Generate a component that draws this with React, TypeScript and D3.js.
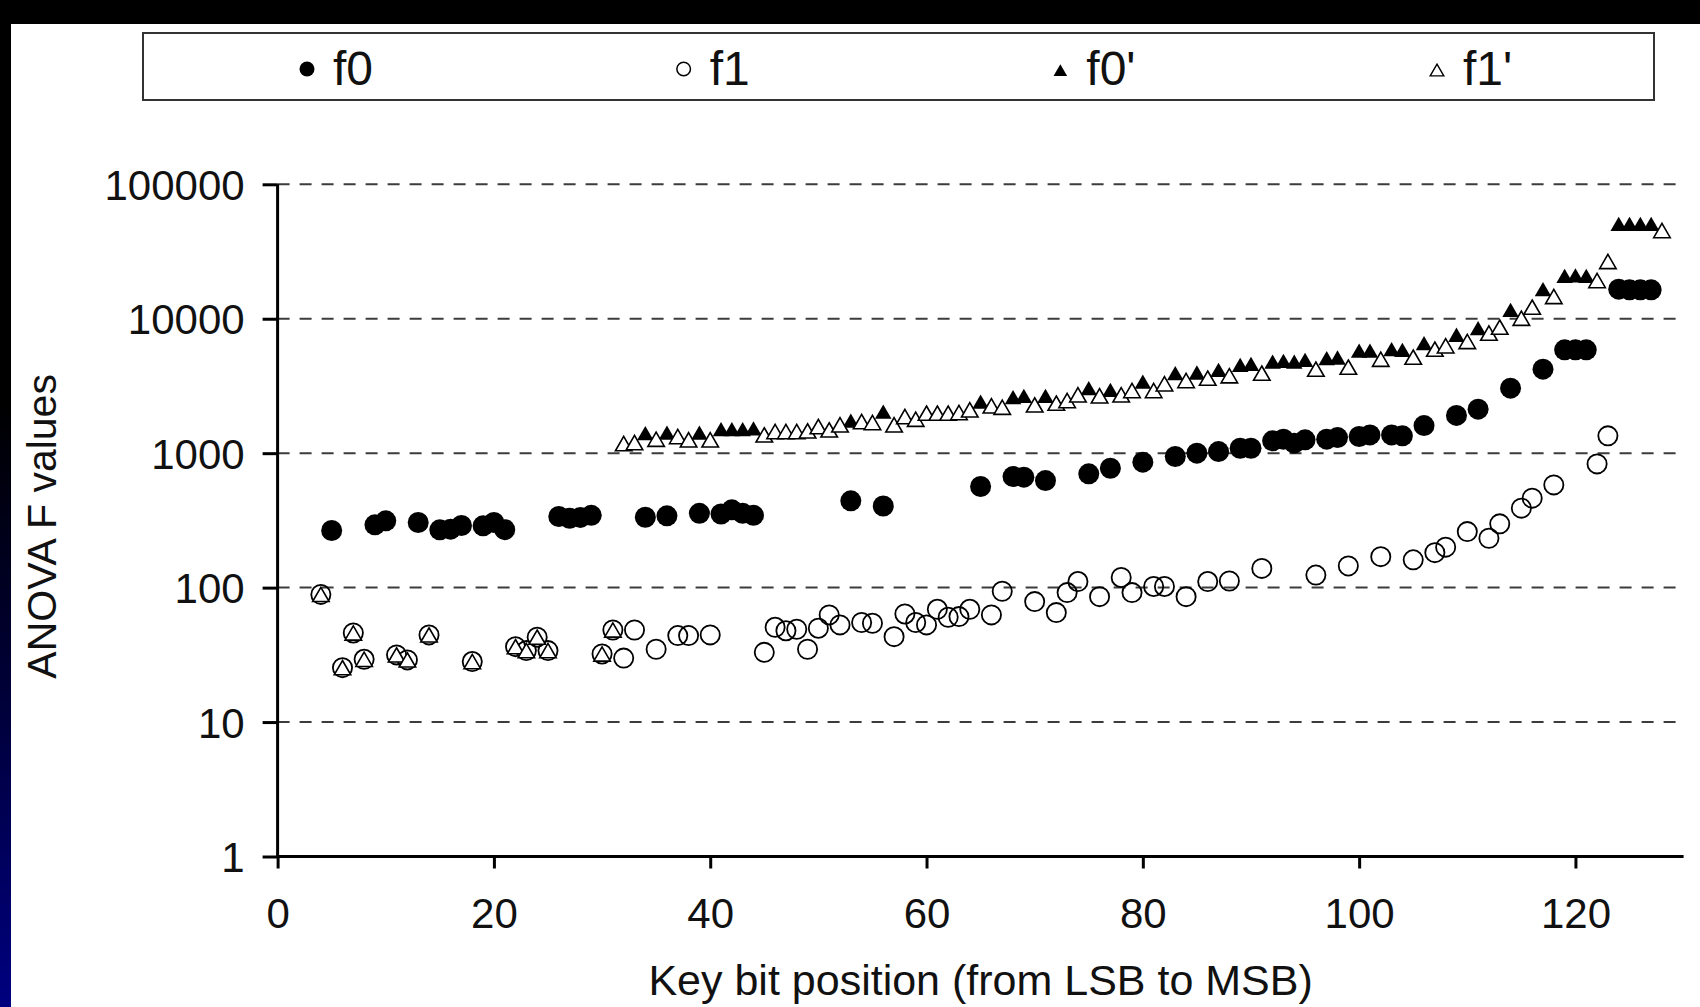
import React, { useEffect, useRef } from "react";
import * as d3 from "d3";

// key bit positions and ANOVA F values
const f0Bits = [5, 9, 10, 13, 15, 16, 17, 19, 20, 21, 26, 27, 28, 29, 34, 36, 39, 41, 42, 43, 44, 53, 56, 65, 68, 69, 71, 75, 77, 80, 83, 85, 87, 89, 90, 92, 93, 94, 95, 97, 98, 100, 101, 103, 104, 106, 109, 111, 114, 117, 119, 120, 121, 124, 125, 126, 127];
const f0Vals = [266, 293, 314, 305, 269, 272, 290, 288, 305, 270, 338, 328, 333, 345, 334, 342, 357, 353, 379, 357, 345, 442, 405, 565, 670, 663, 625, 702, 773, 857, 944, 1000, 1028, 1089, 1089, 1235, 1271, 1187, 1256, 1271, 1306, 1330, 1368, 1368, 1345, 1604, 1910, 2125, 3046, 4217, 5870, 5870, 5870, 16600, 16400, 16400, 16400];

const f1Bits = [4, 6, 7, 8, 11, 12, 14, 18, 22, 23, 24, 25, 30, 31, 32, 33, 35, 37, 38, 40, 45, 46, 47, 48, 49, 50, 51, 52, 54, 55, 57, 58, 59, 60, 61, 62, 63, 64, 66, 67, 70, 72, 73, 74, 76, 78, 79, 81, 82, 84, 86, 88, 91, 96, 99, 102, 105, 107, 108, 110, 112, 113, 115, 116, 118, 122, 123];
const f1Vals = [89, 25.4, 46, 29.3, 31.6, 29, 44.5, 28.2, 36.4, 34, 42.8, 34, 32.1, 48.4, 29.9, 48.4, 34.8, 44, 44, 44.5, 33, 50.7, 47.8, 49, 34.8, 49.9, 62.7, 52.8, 55, 54.3, 43.2, 63.7, 55, 52.8, 69, 60.2, 60.9, 69, 62.7, 94, 78.7, 65.2, 91.8, 111, 85.7, 119, 91.8, 102, 102, 85.7, 111, 112, 139, 124, 145, 170, 161, 182, 200, 261, 233, 298, 390, 463, 581, 832, 1345];

const f0pBits = [34, 36, 39, 41, 42, 43, 44, 53, 56, 65, 68, 69, 71, 75, 77, 80, 83, 85, 87, 89, 90, 92, 93, 94, 95, 97, 98, 100, 101, 103, 104, 106, 109, 111, 114, 117, 119, 120, 121, 124, 125, 126, 127];
const f0pVals = [1409, 1423, 1423, 1508, 1508, 1508, 1530, 1749, 2041, 2421, 2611, 2669, 2669, 3046, 2958, 3411, 3937, 3981, 4169, 4540, 4614, 4805, 4860, 4805, 4944, 5093, 5150, 5800, 5800, 5940, 5870, 6580, 7600, 8510, 11640, 16600, 20850, 21000, 20850, 50800, 50800, 50800, 50800];

const f1pBits = [4, 6, 7, 8, 11, 12, 14, 18, 22, 23, 24, 25, 30, 31, 32, 33, 35, 37, 38, 40, 45, 46, 47, 48, 49, 50, 51, 52, 54, 55, 57, 58, 59, 60, 61, 62, 63, 64, 66, 67, 70, 72, 73, 74, 76, 78, 79, 81, 82, 84, 86, 88, 91, 96, 99, 102, 105, 107, 108, 110, 112, 113, 115, 116, 118, 122, 123, 128];
const f1pVals = [89, 25.4, 46, 29.3, 31.6, 29, 44.5, 28.2, 36.4, 34, 42.8, 34, 32.1, 48.4, 1178, 1199, 1271, 1330, 1256, 1256, 1368, 1448, 1448, 1448, 1465, 1577, 1490, 1624, 1718, 1690, 1624, 1871, 1790, 1985, 1985, 1985, 2005, 2100, 2250, 2198, 2287, 2355, 2462, 2716, 2669, 2716, 2922, 2922, 3280, 3469, 3614, 3770, 3937, 4217, 4365, 5000, 5180, 5940, 6290, 6770, 7820, 8660, 10090, 12200, 14630, 19240, 26660, 45300];

const seriesNames = ["f0", "f1", "f0'", "f1'"];
const xTicks = [0, 20, 40, 60, 80, 100, 120];
const yTicks = [1, 10, 100, 1000, 10000, 100000];

const W = 1700;
const H = 1007;
const font = "'Liberation Sans', Arial, sans-serif";

function App() {
  const svgRef = useRef(null);

  useEffect(() => {
    const svg = d3.select(svgRef.current);
    svg.selectAll("*").remove();

    const x = d3.scaleLinear().domain([0, 130]).range([277.6, 1683.6]);
    const y = d3.scaleLog().domain([1, 100000]).range([856.5, 184.3]);

    // slide frame: black top bar, dark left strip
    const defs = svg.append("defs");
    const grad = defs.append("linearGradient").attr("id", "edge").attr("x1", 0).attr("y1", 0).attr("x2", 0).attr("y2", 1);
    grad.append("stop").attr("offset", "0%").attr("stop-color", "#000");
    grad.append("stop").attr("offset", "40%").attr("stop-color", "#000");
    grad.append("stop").attr("offset", "70%").attr("stop-color", "#00003a");
    grad.append("stop").attr("offset", "100%").attr("stop-color", "#000080");
    svg.append("rect").attr("width", W).attr("height", H).attr("fill", "#fff");
    svg.append("rect").attr("width", 11).attr("height", H).attr("fill", "url(#edge)");
    svg.append("rect").attr("width", W).attr("height", 24).attr("fill", "#000");

    // gridlines
    svg.append("g")
      .selectAll("line")
      .data(yTicks.slice(1))
      .join("line")
      .attr("x1", x(0))
      .attr("x2", x(130))
      .attr("y1", (d) => y(d))
      .attr("y2", (d) => y(d))
      .attr("stroke", "#3c3c3c")
      .attr("stroke-width", 2)
      .attr("stroke-dasharray", "12,10");

    // axes
    const yAxis = d3.axisLeft(y).tickValues(yTicks).tickFormat(d3.format("d")).tickSize(15).tickPadding(18);
    const gy = svg.append("g").attr("transform", `translate(${x(0)},0)`).call(yAxis);
    const xAxis = d3.axisBottom(x).tickValues(xTicks).tickSize(12).tickPadding(30);
    const gx = svg.append("g").attr("transform", `translate(0,${y(1)})`).call(xAxis);
    [gx, gy].forEach((g) => {
      g.select(".domain").attr("stroke", "#000").attr("stroke-width", 3);
      g.selectAll(".tick line").attr("stroke", "#000").attr("stroke-width", 3);
      g.selectAll(".tick text").attr("fill", "#111").style("font-family", font).style("font-size", "42px");
    });
    gy.selectAll(".tick text").attr("dy", "0.36em");
    gx.selectAll(".tick text").attr("dy", "0.71em");
    gx.select(".domain").attr("d", `M${x(0)},0H${x(130)}`);
    gy.select(".domain").attr("d", `M0,${y(1)}V${y(100000)}`);

    // axis titles
    svg.append("text")
      .attr("x", (x(0) + x(130)) / 2)
      .attr("y", 995)
      .attr("text-anchor", "middle")
      .style("font-family", font)
      .style("font-size", "43px")
      .attr("fill", "#111")
      .text("Key bit position (from LSB to MSB)");
    svg.append("text")
      .attr("transform", `translate(56,${(y(1) + y(100000)) / 2 + 6}) rotate(-90)`)
      .attr("text-anchor", "middle")
      .style("font-family", font)
      .style("font-size", "41px")
      .attr("fill", "#111")
      .text("ANOVA F values");

    const triSize = 118;
    const tri = d3.symbol().type(d3.symbolTriangle).size(triSize);
    const triOff = Math.sqrt(triSize / (Math.sqrt(3) * 3)) / 2;

    const plot = svg.append("g");
    // f0: filled circles
    plot.append("g")
      .selectAll("circle")
      .data(d3.zip(f0Bits, f0Vals))
      .join("circle")
      .attr("cx", (d) => x(d[0]))
      .attr("cy", (d) => y(d[1]))
      .attr("r", 10.5)
      .attr("fill", "#000");
    // f1: open circles
    plot.append("g")
      .selectAll("circle")
      .data(d3.zip(f1Bits, f1Vals))
      .join("circle")
      .attr("cx", (d) => x(d[0]))
      .attr("cy", (d) => y(d[1]))
      .attr("r", 9.6)
      .attr("fill", "none")
      .attr("stroke", "#000")
      .attr("stroke-width", 1.8);
    // f0': filled triangles
    plot.append("g")
      .selectAll("path")
      .data(d3.zip(f0pBits, f0pVals))
      .join("path")
      .attr("d", tri)
      .attr("transform", (d) => `translate(${x(d[0])},${y(d[1]) + triOff})`)
      .attr("fill", "#000");
    // f1': open triangles
    plot.append("g")
      .selectAll("path")
      .data(d3.zip(f1pBits, f1pVals))
      .join("path")
      .attr("d", tri)
      .attr("transform", (d) => `translate(${x(d[0])},${y(d[1]) + triOff})`)
      .attr("fill", "#fff")
      .attr("stroke", "#000")
      .attr("stroke-width", 1.6);

    // legend
    const lg = svg.append("g");
    lg.append("rect")
      .attr("x", 143)
      .attr("y", 33)
      .attr("width", 1511)
      .attr("height", 67)
      .attr("fill", "#fff")
      .attr("stroke", "#333")
      .attr("stroke-width", 2);
    const lx = d3.scaleLinear().domain([0, 3]).range([307, 1437]);
    const items = lg.selectAll("g.item").data(seriesNames).join("g").attr("class", "item")
      .attr("transform", (d, i) => `translate(${lx(i)},69)`);
    items.each(function (d, i) {
      const g = d3.select(this);
      if (i < 2) {
        g.append("circle").attr("r", i === 0 ? 7.5 : 6.8)
          .attr("fill", i === 0 ? "#000" : "none")
          .attr("stroke", i === 0 ? "none" : "#000")
          .attr("stroke-width", 1.5);
      } else {
        g.append("path").attr("d", d3.symbol().type(d3.symbolTriangle).size(80))
          .attr("transform", "translate(0,3)")
          .attr("fill", i === 2 ? "#000" : "#fff")
          .attr("stroke", i === 2 ? "none" : "#000")
          .attr("stroke-width", 1.4);
      }
      g.append("text")
        .attr("x", 26)
        .attr("y", 16)
        .style("font-family", font)
        .style("font-size", "48px")
        .attr("fill", "#111")
        .text(d);
    });
  }, []);

  return (
    <svg
      ref={svgRef}
      width={W}
      height={H}
      style={{ position: "absolute", left: 0, top: 0, display: "block" }}
    />
  );
}

export default App;
